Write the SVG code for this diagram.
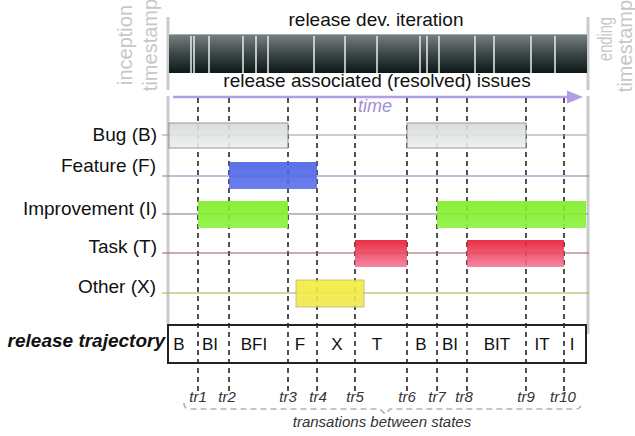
<svg xmlns="http://www.w3.org/2000/svg" width="635" height="436" viewBox="0 0 635 436">
<style>
.lbl{font-family:"Liberation Sans",Arial,sans-serif;font-size:19px;fill:#111;text-anchor:end}
.title{font-family:"Liberation Sans",Arial,sans-serif;font-size:19px;fill:#111;text-anchor:middle}
.stamp{font-family:"Liberation Sans",Arial,sans-serif;font-size:20px;fill:#c4c8c8;text-anchor:middle}
.st{font-family:"Liberation Sans",Arial,sans-serif;font-size:17px;fill:#111;text-anchor:middle}
.tr{font-family:"Liberation Sans",Arial,sans-serif;font-size:15px;font-style:italic;fill:#333;text-anchor:middle}
.dash{stroke:#333;stroke-width:1.7;stroke-dasharray:5 4;fill:none}
.gbar{stroke:#c8cbcb;stroke-width:3;fill:none}
.div{stroke:#e8eeee;stroke-width:1.5}
.bar{opacity:0.9}
</style>
<defs>
<linearGradient id="dark" x1="0" y1="0" x2="0" y2="1">
<stop offset="0" stop-color="#7a8383"/>
<stop offset="0.5" stop-color="#3d4747"/>
<stop offset="1" stop-color="#0c1818"/>
</linearGradient>
<linearGradient id="gBug" x1="0" y1="0" x2="0" y2="1">
<stop offset="0" stop-color="#d6dada"/>
<stop offset="1" stop-color="#eef0f0"/>
</linearGradient>
<linearGradient id="gFeat" x1="0" y1="0" x2="0" y2="1">
<stop offset="0" stop-color="#4a60e6"/>
<stop offset="1" stop-color="#5a70ec"/>
</linearGradient>
<linearGradient id="gImp" x1="0" y1="0" x2="0" y2="1">
<stop offset="0" stop-color="#7eec22"/>
<stop offset="1" stop-color="#8cf23a"/>
</linearGradient>
<linearGradient id="gTask" x1="0" y1="0" x2="0" y2="1">
<stop offset="0" stop-color="#e81830"/>
<stop offset="1" stop-color="#f47898"/>
</linearGradient>
<linearGradient id="gOth" x1="0" y1="0" x2="0" y2="1">
<stop offset="0" stop-color="#f2ee3a"/>
<stop offset="1" stop-color="#f0e850"/>
</linearGradient>
</defs>

<!-- timestamps -->
<g id="inception">
<text class="stamp" transform="translate(132,45) rotate(-90)">inception</text>
<text class="stamp" transform="translate(157,45) rotate(-90)">timestamp</text>
<line class="gbar" x1="168" y1="17" x2="168" y2="90"/>
</g>
<g id="ending">
<text class="stamp" transform="translate(612,39) rotate(-90)" textLength="44" lengthAdjust="spacingAndGlyphs">ending</text>
<text class="stamp" transform="translate(632,46) rotate(-90)">timestamp</text>
<line class="gbar" x1="588" y1="17" x2="588" y2="90"/>
</g>

<!-- iteration bar -->
<g id="iteration">
<text class="title" x="376" y="26">release dev. iteration</text>
<rect x="169" y="34" width="418" height="39" fill="url(#dark)"/>
<line x1="169" y1="34.5" x2="587" y2="34.5" stroke="#a8aeae" stroke-width="1"/>
<g class="div">
<line x1="191" y1="36" x2="191" y2="73"/><line x1="194" y1="36" x2="194" y2="73"/>
<line x1="209" y1="36" x2="209" y2="73"/><line x1="243" y1="36" x2="243" y2="73"/>
<line x1="256" y1="36" x2="256" y2="73"/><line x1="268" y1="36" x2="268" y2="73"/>
<line x1="314" y1="36" x2="314" y2="73"/><line x1="345" y1="36" x2="345" y2="73"/>
<line x1="377" y1="36" x2="377" y2="73"/><line x1="420" y1="36" x2="420" y2="73"/>
<line x1="427" y1="36" x2="427" y2="73"/><line x1="439" y1="36" x2="439" y2="73"/>
<line x1="475" y1="36" x2="475" y2="73"/><line x1="494" y1="36" x2="494" y2="73"/>
<line x1="531" y1="36" x2="531" y2="73"/><line x1="555" y1="36" x2="555" y2="73"/>
</g>
<text class="title" x="377" y="87">release associated (resolved) issues</text>
</g>

<!-- time arrow -->
<g id="time">
<line x1="173" y1="97" x2="572" y2="97" stroke="#b39de8" stroke-width="2.5"/>
<polygon points="567,90.5 583,97 567,103.5" fill="#b39de8"/>
<text x="375" y="112" font-family="'Liberation Sans',Arial,sans-serif" font-size="18" font-style="italic" fill="#a08ed6" text-anchor="middle">time</text>
</g>

<!-- gray frame lines -->
<line class="gbar" x1="168" y1="96" x2="168" y2="325"/>
<line class="gbar" x1="588" y1="96" x2="588" y2="334"/>

<!-- connectors: transition dashed lines -->
<g id="transitions">
<line class="dash" x1="198" y1="98" x2="198" y2="392"/>
<line class="dash" x1="229" y1="98" x2="229" y2="392"/>
<line class="dash" x1="288" y1="98" x2="288" y2="392"/>
<line class="dash" x1="317" y1="98" x2="317" y2="392"/>
<line class="dash" x1="355" y1="98" x2="355" y2="392"/>
<line class="dash" x1="407" y1="98" x2="407" y2="392"/>
<line class="dash" x1="437" y1="98" x2="437" y2="392"/>
<line class="dash" x1="467" y1="98" x2="467" y2="392"/>
<line class="dash" x1="526" y1="98" x2="526" y2="392"/>
<line class="dash" x1="564" y1="98" x2="564" y2="392"/>
</g>

<!-- issue type rows -->
<g id="bug">
<text class="lbl" x="157" y="141">Bug (B)</text>
<line x1="162" y1="135" x2="587" y2="135" stroke="#9a9e9e" stroke-width="1.2"/>
<rect class="bar" x="169" y="123" width="119" height="25" fill="url(#gBug)" stroke="#8a8e8e" stroke-width="1"/>
<rect class="bar" x="407" y="123" width="119" height="25" fill="url(#gBug)" stroke="#8a8e8e" stroke-width="1"/>
</g>
<g id="feature">
<text class="lbl" x="156" y="172">Feature (F)</text>
<line x1="162" y1="176" x2="589" y2="176" stroke="#7684b4" stroke-width="1.2"/>
<rect class="bar" x="229" y="162" width="88" height="27" fill="url(#gFeat)"/>
</g>
<g id="improvement">
<text class="lbl" x="157" y="215">Improvement (I)</text>
<line x1="162" y1="214" x2="588" y2="214" stroke="#6e826e" stroke-width="1.2"/>
<rect class="bar" x="198" y="201" width="90" height="27" fill="url(#gImp)"/>
<rect class="bar" x="437" y="201" width="149" height="27" fill="url(#gImp)"/>
</g>
<g id="task">
<text class="lbl" x="157" y="253">Task (T)</text>
<line x1="162" y1="253" x2="589" y2="253" stroke="#a45464" stroke-width="1.2"/>
<rect class="bar" x="355" y="240" width="52" height="27" fill="url(#gTask)"/>
<rect class="bar" x="467" y="240" width="97" height="27" fill="url(#gTask)"/>
</g>
<g id="other">
<text class="lbl" x="156" y="293">Other (X)</text>
<line x1="162" y1="293" x2="589" y2="293" stroke="#b4a84a" stroke-width="1.2"/>
<rect class="bar" x="296" y="280" width="68" height="27" fill="url(#gOth)" stroke="#b0b070" stroke-width="0.8"/>
</g>

<!-- release trajectory -->
<g id="trajectory">
<text x="165" y="347" font-family="'Liberation Sans',Arial,sans-serif" font-size="19" font-weight="bold" font-style="italic" fill="#111" text-anchor="end">release trajectory</text>
<rect x="168" y="325" width="418" height="38" fill="none" stroke="#222" stroke-width="2"/>
<text class="st" x="179" y="350">B</text>
<text class="st" x="210" y="350">BI</text>
<text class="st" x="254" y="350">BFI</text>
<text class="st" x="300" y="350">F</text>
<text class="st" x="337" y="350">X</text>
<text class="st" x="377" y="350">T</text>
<text class="st" x="421" y="350">B</text>
<text class="st" x="450" y="350">BI</text>
<text class="st" x="497" y="350">BIT</text>
<text class="st" x="542" y="350">IT</text>
<text class="st" x="572" y="350">I</text>
</g>

<!-- transition labels -->
<g id="tr-labels">
<text class="tr" x="198" y="402">tr1</text>
<text class="tr" x="227" y="402">tr2</text>
<text class="tr" x="288" y="402">tr3</text>
<text class="tr" x="318" y="402">tr4</text>
<text class="tr" x="355" y="402">tr5</text>
<text class="tr" x="407" y="402">tr6</text>
<text class="tr" x="437" y="402">tr7</text>
<text class="tr" x="464" y="402">tr8</text>
<text class="tr" x="526" y="402">tr9</text>
<text class="tr" x="563" y="402">tr10</text>
</g>

<!-- brace -->
<g id="brace">
<path d="M184,403 Q184,409 190,409 L380,409 L385,414 L390,409 L576,409 Q581,409 581,403" fill="none" stroke="#b0b4b4" stroke-width="1.6" stroke-dasharray="6 4"/>
<text x="382" y="427" font-family="'Liberation Sans',Arial,sans-serif" font-size="15" font-style="italic" fill="#333" text-anchor="middle">transations between states</text>
</g>
</svg>
